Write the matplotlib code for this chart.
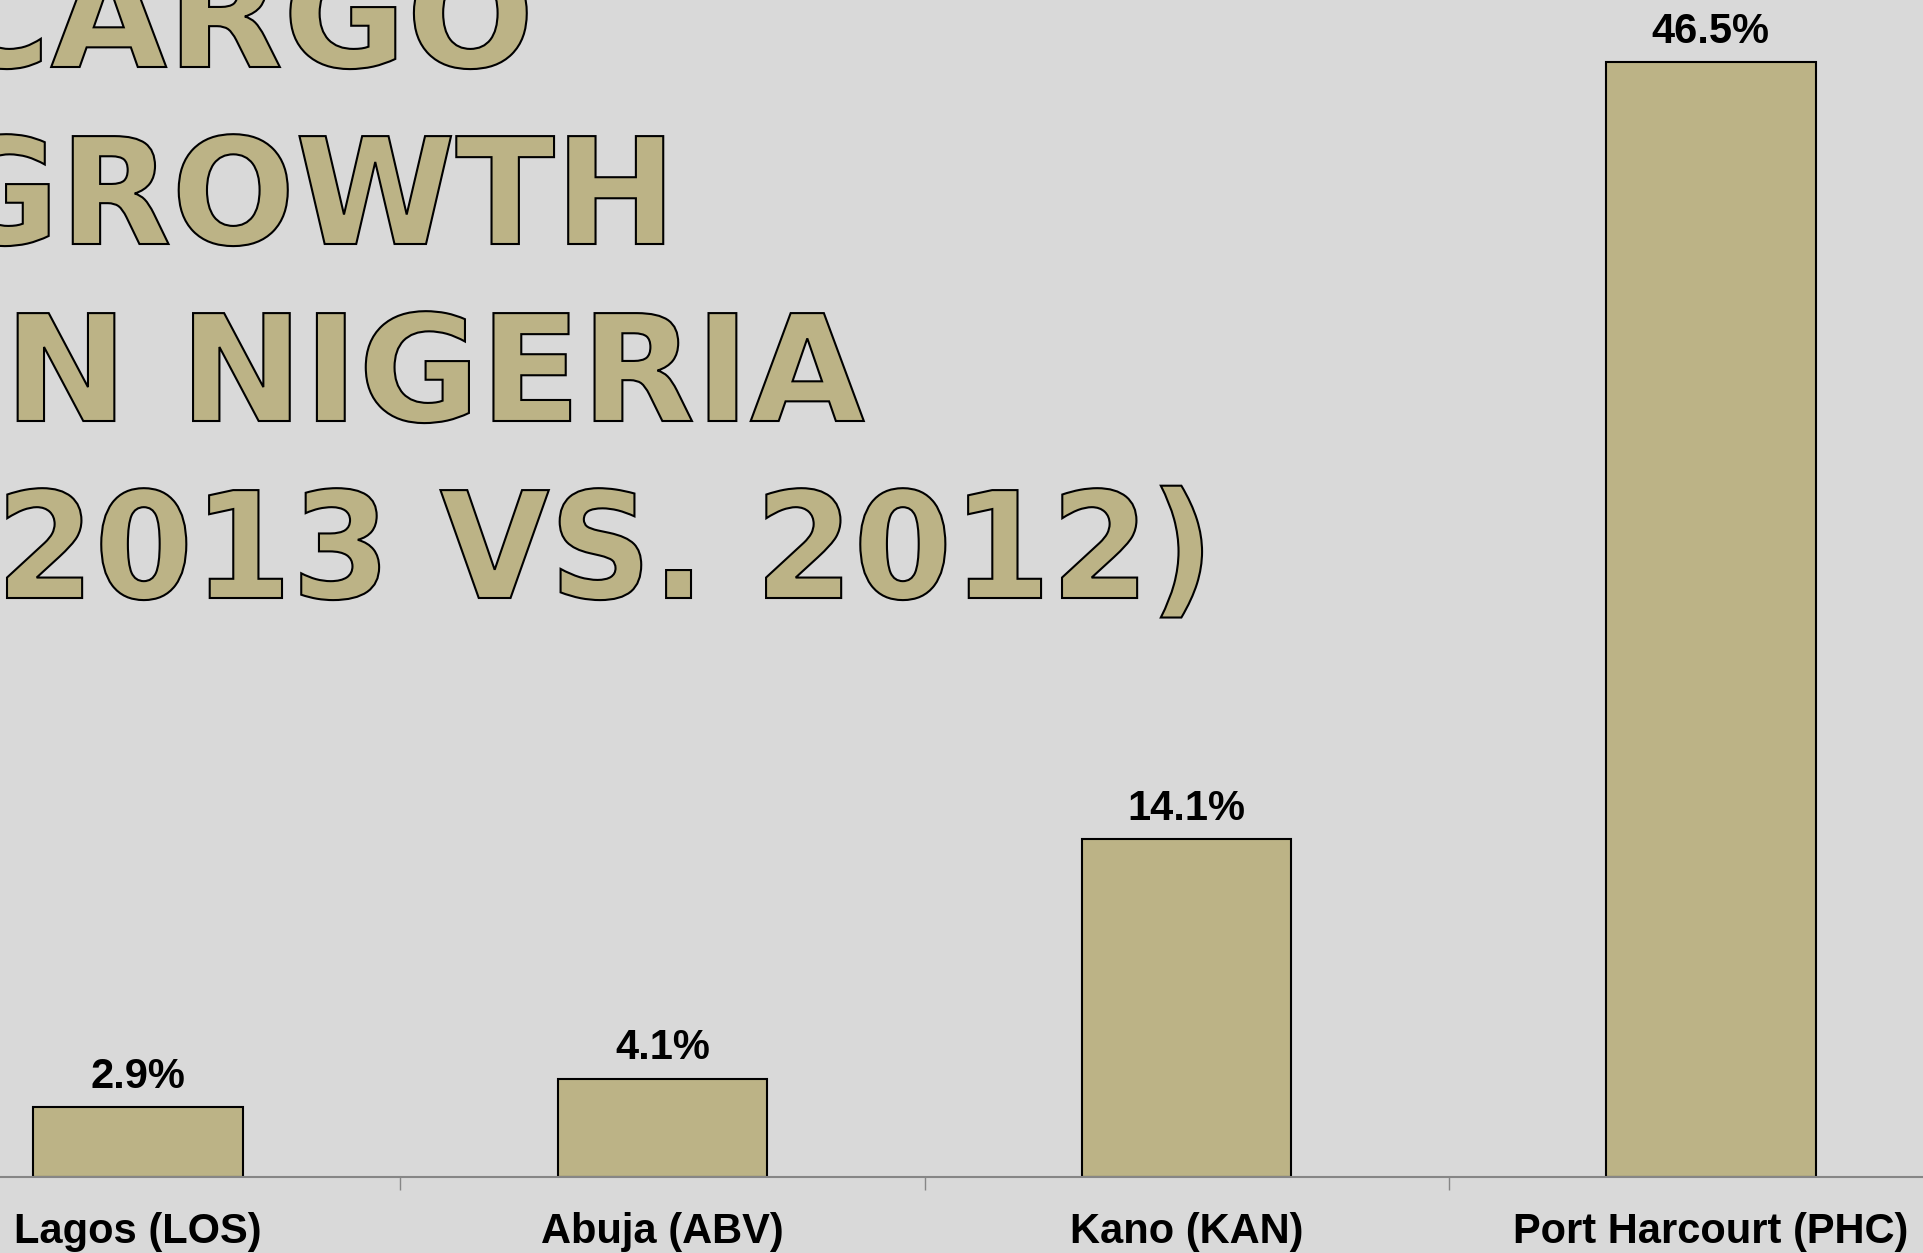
# bar chart: air cargo growth by airport in Nigeria, 2013 vs 2012
import matplotlib
matplotlib.use("Agg")
import matplotlib.pyplot as plt
from matplotlib.textpath import TextPath
from matplotlib.patches import PathPatch
from matplotlib.font_manager import FontProperties
from matplotlib.transforms import Affine2D, IdentityTransform

airports = ["Lagos (LOS)", "Abuja (ABV)", "Kano (KAN)", "Port Harcourt (PHC)"]
growth = [2.9, 4.1, 14.1, 46.5]
title_lines = ["CARGO", "GROWTH", "IN NIGERIA", "(2013 VS. 2012)"]

BG = "#d9d9d9"
KHAKI = "#bcb386"
AXIS_GRAY = "#868686"

plt.rcParams["font.family"] = ["Liberation Sans", "DejaVu Sans"]

W, H = 1923, 1253
fig = plt.figure(figsize=(W / 100, H / 100), dpi=100, facecolor=BG)

# axes run past the figure edges, the picture is a crop of a wider slide
ax = fig.add_axes([-124 / W, 76 / H, 2097 / W, 1177 / H])
ax.set_facecolor(BG)

x = list(range(len(airports)))
ax.bar(x, growth, width=0.4, color=KHAKI, edgecolor="black", linewidth=1.5)
ax.set_xlim(-0.5, 3.5)
ax.set_ylim(0, 49.1)

for s in ["top", "left", "right"]:
    ax.spines[s].set_visible(False)
ax.spines["bottom"].set_color(AXIS_GRAY)
ax.spines["bottom"].set_linewidth(1.5)
ax.yaxis.set_visible(False)

ax.set_xticks(x)
ax.set_xticklabels(airports, fontsize=30, fontweight="bold")
ax.tick_params(axis="x", which="major", length=0, pad=25)
ax.set_xticks([0.5, 1.5, 2.5], minor=True)
ax.tick_params(axis="x", which="minor", length=9, width=1, color=AXIS_GRAY)

for i, v in enumerate(growth):
    ax.annotate(f"{v}%", xy=(i, v), xytext=(0, 14), textcoords="offset points",
                ha="center", va="baseline", fontsize=30, fontweight="bold",
                annotation_clip=False)

# big outlined title (WordArt style), partly cut off at the left and top
# each line: start x (px), horizontal squeeze
line_x0 = [-60, -60, -51, -69]
line_sx = [1.017, 0.983, 1.0, 0.958]
fp = FontProperties(family="DejaVu Sans", weight="bold")
em = 148
for k, line in enumerate(title_lines):
    base = 1186 - k * 177
    tp = TextPath((0, 0), line, size=em, prop=fp)
    path = Affine2D().scale(line_sx[k], 1).translate(line_x0[k], base).transform_path(tp)
    fig.add_artist(PathPatch(path, facecolor=KHAKI, edgecolor="black",
                             linewidth=1.5, transform=IdentityTransform()))

fig.savefig("out.png", dpi=100, facecolor=BG)
